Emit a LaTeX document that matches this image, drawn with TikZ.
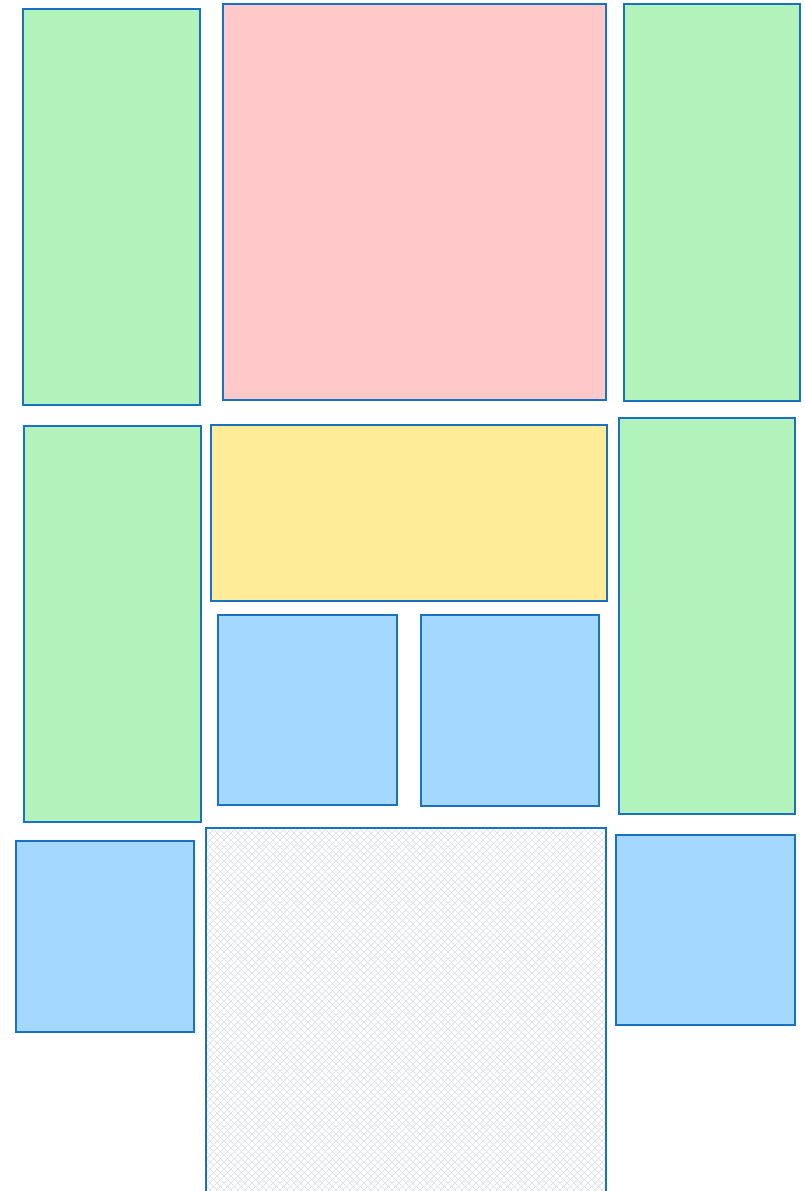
\documentclass[tikz,border=0pt]{standalone}
\begin{document}
\begin{tikzpicture}[x=1pt,y=-1pt,
  box/.style={draw=strokeblue,line width=1.1pt},
  gbox/.style={box,fill=boxgreen},
  pbox/.style={box,fill=boxpink},
  ybox/.style={box,fill=boxyellow},
  bbox/.style={box,fill=boxblue},
  hatch/.style={draw=hatchgray,line width=0.7pt}]
\definecolor{strokeblue}{HTML}{1971C2}
\definecolor{boxgreen}{HTML}{B2F2BB}
\definecolor{boxpink}{HTML}{FFC9C9}
\definecolor{boxyellow}{HTML}{FFEC99}
\definecolor{boxblue}{HTML}{A5D8FF}
\definecolor{hatchgray}{HTML}{DDE2E8}
\useasboundingbox (0,0) rectangle (804,1191);
\path[gbox] (23,9) rectangle (200,405);
\path[pbox] (223,4) rectangle (606,400);
\path[gbox] (624,4) rectangle (800,401);
\path[gbox] (24,426) rectangle (201,822);
\path[ybox] (211,425) rectangle (607,601);
\path[gbox] (619,418) rectangle (795,814);
\path[bbox] (218,615) rectangle (397,805);
\path[bbox] (421,615) rectangle (599,806);
\path[bbox] (16,841) rectangle (194,1032);
\path[bbox] (616,835) rectangle (795,1025);
\begin{scope}
  \clip (206,828) rectangle (606,1200);
  \foreach \k in {-400,-393,...,420} {
    \draw[hatch] (206+\k,828) -- ++(400,400);
    \draw[hatch] (606-\k,828) -- ++(-400,400);
  }
\end{scope}
\draw[strokeblue,line width=1.1pt] (206,1200) -- (206,828) -- (606,828) -- (606,1200);
\end{tikzpicture}
\end{document}
